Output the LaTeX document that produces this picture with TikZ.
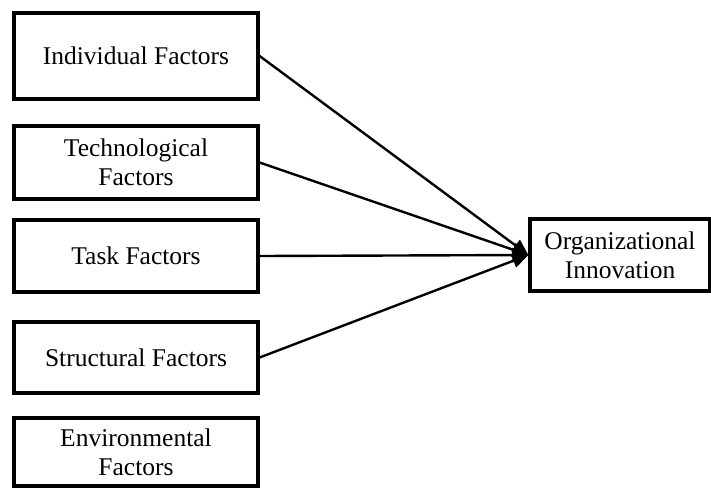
\documentclass[tikz,border=0pt]{standalone}
\usepackage{fontspec}
\setmainfont{Liberation Serif}
\usetikzlibrary{arrows.meta}
\begin{document}
\begin{tikzpicture}[x=1pt,y=-1pt,
  factor/.style={draw=black, line width=3.2pt, minimum width=244pt, align=center,
    font=\fontsize{25.5}{29}\selectfont, inner sep=0pt},
  link/.style={line width=2.4pt, -{Triangle[length=16pt,width=14pt]}}]
  \useasboundingbox (0,0) rectangle (711,488);
  \node[factor, minimum height=86pt] (ind) at (136,56) {Individual Factors};
  \node[factor, minimum height=73pt] (tech) at (136,162.5) {Technological\\Factors};
  \node[factor, minimum height=72pt] (task) at (136,256) {Task Factors};
  \node[factor, minimum height=71pt] (str) at (136,357.5) {Structural Factors};
  \node[factor, minimum height=68pt] (env) at (136,452) {Environmental\\Factors};
  \node[factor, minimum width=180pt, minimum height=72pt] (org) at (620,255) {Organizational\\Innovation};
  \coordinate (tip) at (org.west);
  \draw[link] (ind.east) -- (tip);
  \draw[link] (tech.east) -- (tip);
  \draw[link] (task.east) -- (tip);
  \draw[link] (str.east) -- (tip);
\end{tikzpicture}
\end{document}
